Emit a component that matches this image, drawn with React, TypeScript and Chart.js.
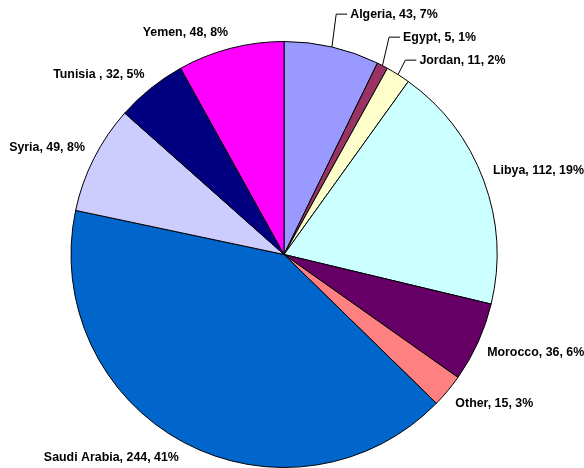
import React, { useEffect, useRef } from "react";
import { Chart, registerables } from "chart.js";

Chart.register(...registerables);

const categories = ["Algeria", "Egypt", "Jordan", "Libya", "Morocco", "Other", "Saudi Arabia", "Syria", "Tunisia ", "Yemen"];
const values = [43, 5, 11, 112, 36, 15, 244, 49, 32, 48];
const colors = ["#9999FF", "#993366", "#FFFFCC", "#CCFFFF", "#660066", "#FF8080", "#0066CC", "#CCCCFF", "#000080", "#FF00FF"];
const leaderLabels = ["Algeria", "Egypt", "Jordan"];

const FONT = "bold 12.4px 'Liberation Sans', Arial, sans-serif";
const LABEL_GAP = 10;
const LABEL_H = 12;
const LEADER_SHIFT = 16;
const LINE_STEP = 23;

const labelPlugin = {
  id: "sliceLabels",
  afterDatasetsDraw(chart: any) {
    const ctx = chart.ctx;
    const meta = chart.getDatasetMeta(0);
    const data = chart.data.datasets[0].data as number[];
    const total = data.reduce((a, b) => a + b, 0);
    ctx.save();
    ctx.font = FONT;
    ctx.textBaseline = "middle";
    ctx.fillStyle = "#000";
    const boxes: any[] = [];
    meta.data.forEach((arc: any, i: number) => {
      const p = arc.getProps(["x", "y", "startAngle", "endAngle", "outerRadius"], true);
      const mid = (p.startAngle + p.endAngle) / 2;
      const ux = Math.cos(mid);
      const uy = Math.sin(mid);
      const text = `${categories[i]}, ${data[i]}, ${Math.round((data[i] / total) * 100)}%`;
      const w = ctx.measureText(text).width;
      const px = p.x + (p.outerRadius + LABEL_GAP) * ux;
      const py = p.y + (p.outerRadius + LABEL_GAP) * uy;
      let left = ux >= 0 ? px : px - w;
      const cy = uy >= 0 ? py + LABEL_H / 2 : py - LABEL_H / 2;
      const leader = leaderLabels.includes(categories[i]);
      if (leader) left += LEADER_SHIFT;
      boxes.push({
        text, left, cy, leader,
        ex: p.x + p.outerRadius * ux,
        ey: p.y + p.outerRadius * uy,
      });
    });
    // resolve leader label overlaps from last to first
    let prevCy: number | null = null;
    for (let i = boxes.length - 1; i >= 0; i--) {
      const b = boxes[i];
      if (!b.leader) continue;
      if (prevCy !== null && b.cy > prevCy - LINE_STEP) b.cy = prevCy - LINE_STEP;
      prevCy = b.cy;
    }
    boxes.forEach((b) => {
      if (b.leader) {
        ctx.beginPath();
        ctx.strokeStyle = "#000";
        ctx.lineWidth = 1;
        ctx.moveTo(b.ex, b.ey);
        ctx.lineTo(b.left - 14, b.cy);
        ctx.lineTo(b.left - 3, b.cy);
        ctx.stroke();
      }
      ctx.textAlign = "left";
      ctx.fillText(b.text, b.left, b.cy);
    });
    ctx.restore();
  },
};

export default function App() {
  const ref = useRef<HTMLCanvasElement>(null);
  useEffect(() => {
    if (!ref.current) return;
    const chart = new Chart(ref.current, {
      type: "pie",
      data: {
        labels: categories,
        datasets: [
          {
            data: values,
            backgroundColor: colors,
            borderColor: "#000",
            borderWidth: 1,
          },
        ],
      },
      options: {
        animation: false,
        responsive: false,
        devicePixelRatio: 1,
        radius: 213,
        layout: { padding: { left: 70.5, right: 86.5, top: 41, bottom: 0 } },
        plugins: {
          legend: { display: false },
          tooltip: { enabled: false },
        },
      },
      plugins: [labelPlugin],
    });
    return () => chart.destroy();
  }, []);
  return (
    <div style={{ position: "fixed", left: 0, top: 0, width: 584, height: 468, background: "#fff" }}>
      <canvas ref={ref} width={584} height={468} />
    </div>
  );
}
